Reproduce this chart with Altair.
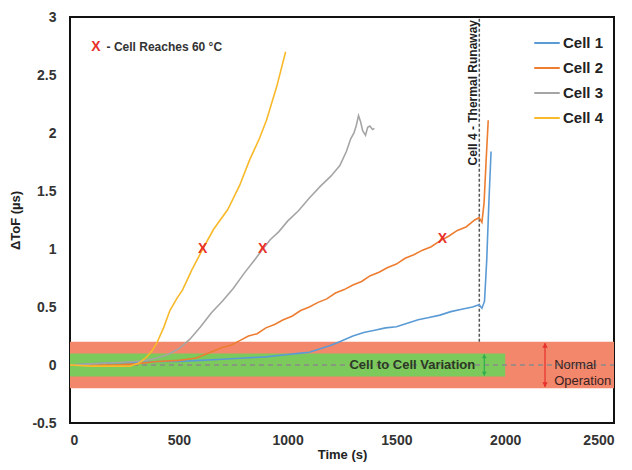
import altair as alt
import pandas as pd

# ---------------- data ----------------
cell_names = ["Cell 1", "Cell 2", "Cell 3", "Cell 4"]
cell_colors = ["#5B9BD5", "#ED7D31", "#A5A5A5", "#F8B92A"]

cell1_t = [0, 100, 200, 300, 400, 500, 600, 700, 800, 900, 1000, 1050, 1100, 1150, 1200,
           1250, 1300, 1350, 1400, 1450, 1500, 1550, 1600, 1650, 1700, 1750, 1800, 1850,
           1880, 1893, 1905, 1915, 1925, 1935]
cell1_v = [0.0, 0.01, 0.02, 0.02, 0.03, 0.03, 0.04, 0.05, 0.06, 0.07, 0.09, 0.10, 0.11, 0.14, 0.17,
           0.21, 0.25, 0.28, 0.30, 0.32, 0.33, 0.36, 0.39, 0.41, 0.43, 0.46, 0.48, 0.50,
           0.52, 0.49, 0.55, 0.90, 1.40, 1.84]

cell2_t = [0, 100, 200, 300, 400, 500, 540, 580, 620, 660, 700, 740, 780, 820, 860, 900, 940,
           980, 1020, 1060, 1100, 1140, 1180, 1220, 1260, 1300, 1340, 1380, 1420, 1460, 1500,
           1540, 1580, 1620, 1660, 1700, 1740, 1780, 1820, 1860, 1880, 1893, 1903, 1912, 1922]
cell2_v = [0.0, 0.0, 0.0, 0.01, 0.03, 0.04, 0.05, 0.06, 0.09, 0.12, 0.15, 0.17, 0.21, 0.25, 0.27,
           0.32, 0.35, 0.39, 0.42, 0.47, 0.50, 0.54, 0.57, 0.62, 0.65, 0.69, 0.72, 0.77, 0.80,
           0.84, 0.87, 0.92, 0.95, 0.99, 1.02, 1.07, 1.11, 1.16, 1.19, 1.25, 1.27, 1.23, 1.40,
           1.75, 2.11]

cell3_t = [0, 100, 200, 300, 350, 400, 450, 500, 550, 600, 650, 700, 750, 800, 850, 886, 920,
           960, 1000, 1050, 1100, 1150, 1200, 1240, 1270, 1290, 1305, 1315, 1326, 1335, 1345,
           1358, 1368, 1378, 1390, 1399]
cell3_v = [0.0, 0.01, 0.02, 0.03, 0.04, 0.06, 0.09, 0.14, 0.22, 0.33, 0.45, 0.55, 0.66, 0.79,
           0.91, 1.0, 1.08, 1.15, 1.24, 1.33, 1.44, 1.54, 1.63, 1.72, 1.84, 1.95, 2.0, 2.06,
           2.15, 2.10, 2.02, 1.98, 2.05, 2.06, 2.03, 2.04]

cell4_t = [0, 100, 200, 275, 320, 353, 380, 399, 430, 459, 490, 518, 560, 610, 660, 725, 780,
           826, 870, 903, 950, 991]
cell4_v = [0.0, -0.01, -0.01, -0.01, 0.02, 0.07, 0.13, 0.19, 0.32, 0.47, 0.57, 0.65, 0.82, 1.0,
           1.17, 1.34, 1.55, 1.77, 1.95, 2.11, 2.40, 2.70]

# points where each cell reaches 60 °C
marker_t = [610, 886, 1711]
marker_v = [1.0, 1.0, 1.09]

# bands
normal_band = [-0.2, 0.2]
variation_band = [-0.1, 0.1]
variation_end = 2000
runaway_t = 1881

x_ticks = [0, 500, 1000, 1500, 2000, 2500]
y_ticks = [-0.5, 0, 0.5, 1, 1.5, 2, 2.5, 3]

FONT = "Liberation Sans"
X_TITLE = "Time (s)"
Y_TITLE = "\u0394ToF (\u00b5s)"

rows = []
for name, ts, vs in zip(cell_names, [cell1_t, cell2_t, cell3_t, cell4_t],
                        [cell1_v, cell2_v, cell3_v, cell4_v]):
    for i, (t, v) in enumerate(zip(ts, vs)):
        rows.append({"cell": name, "t": t, "v": v, "i": i})
lines_df = pd.DataFrame(rows)

xs = alt.Scale(domain=[0, 2500], nice=False)
ys = alt.Scale(domain=[-0.5, 3], nice=False)
x_axis = alt.Axis(values=x_ticks, format="d", labelPadding=10, titlePadding=1)
y_axis = alt.Axis(values=y_ticks, labelPadding=14, titlePadding=9,
                  labelExpr="toString(datum.value)")


def X(field):
    return alt.X(field, scale=xs, axis=x_axis, title=X_TITLE)


def Y(field):
    return alt.Y(field, scale=ys, axis=y_axis, title=Y_TITLE)


red_band = alt.Chart(pd.DataFrame({"x0": [0], "x1": [2500], "y0": [normal_band[0]], "y1": [normal_band[1]]})).mark_rect(
    color="#F2876B").encode(x=X("x0:Q"), x2="x1:Q", y=Y("y0:Q"), y2="y1:Q")

green_band = alt.Chart(pd.DataFrame({"x0": [0], "x1": [variation_end], "y0": [variation_band[0]], "y1": [variation_band[1]]})).mark_rect(
    color="#7CC95C").encode(x=X("x0:Q"), x2="x1:Q", y=Y("y0:Q"), y2="y1:Q")

zero_line = alt.Chart(pd.DataFrame({"x0": [0], "x1": [2500], "y0": [0]})).mark_rule(
    color="#8A8A8A", strokeDash=[5, 4], strokeWidth=1.3).encode(x=X("x0:Q"), x2="x1:Q", y=Y("y0:Q"))

runaway_line = alt.Chart(pd.DataFrame({"x0": [runaway_t], "y0": [normal_band[1]], "y1": [3]})).mark_rule(
    color="#555555", strokeDash=[3, 2], strokeWidth=1.5).encode(x=X("x0:Q"), y=Y("y0:Q"), y2="y1:Q")

lines = alt.Chart(lines_df).mark_line(strokeWidth=1.6).encode(
    x=X("t:Q"), y=Y("v:Q"),
    color=alt.Color("cell:N", scale=alt.Scale(domain=cell_names, range=cell_colors),
                    legend=alt.Legend(title=None, orient="none", legendX=463, legendY=12,
                                      symbolType="stroke", symbolStrokeWidth=2, symbolSize=650,
                                      labelFont=FONT, labelFontSize=15, labelFontWeight="bold",
                                      labelColor="#222222", rowPadding=3, labelOffset=2)),
    order="i:Q")

markers = alt.Chart(pd.DataFrame({"t": marker_t, "v": marker_v})).mark_text(
    text="X", color="#E8302A", font=FONT, fontSize=14, fontWeight="bold", baseline="middle").encode(
    x=X("t:Q"), y=Y("v:Q"))

note_x = alt.Chart(pd.DataFrame({"t": [119], "v": [2.74]})).mark_text(
    text="X", color="#E8302A", font=FONT, fontSize=14, fontWeight="bold", baseline="middle").encode(
    x=X("t:Q"), y=Y("v:Q"))

note_text = alt.Chart(pd.DataFrame({"t": [168], "v": [2.74]})).mark_text(
    text="- Cell Reaches 60 \u00b0C", color="#333333", font=FONT, fontSize=12, fontWeight="bold",
    align="left", baseline="middle").encode(x=X("t:Q"), y=Y("v:Q"))

runaway_text = alt.Chart(pd.DataFrame({"t": [1853], "v": [3]})).mark_text(
    text="Cell 4 - Thermal Runaway", color="#222222", font=FONT, fontSize=12, fontWeight="bold",
    angle=270, align="right", baseline="middle", dx=-3).encode(x=X("t:Q"), y=Y("v:Q"))

variation_text = alt.Chart(pd.DataFrame({"t": [1573], "v": [0]})).mark_text(
    text="Cell to Cell Variation", color="#2A3A22", font=FONT, fontSize=13, fontWeight="bold",
    align="center", baseline="middle").encode(x=X("t:Q"), y=Y("v:Q"))

normal_text = alt.Chart(pd.DataFrame({"t": [2225], "v": [0]})).mark_text(
    text=["Normal", "Operation"], color="#3A2222", font=FONT, fontSize=13,
    align="left", baseline="middle", lineHeight=16).encode(x=X("t:Q"), y=Y("v:Q"))

green_arrow = alt.Chart(pd.DataFrame({"t": [1904], "y0": [-0.09], "y1": [0.09]})).mark_rule(
    color="#2FAE4E", strokeWidth=1.2).encode(x=X("t:Q"), y=Y("y0:Q"), y2="y1:Q")
green_heads = alt.Chart(pd.DataFrame({"t": [1904, 1904], "v": [0.075, -0.075],
                                      "s": ["triangle-up", "triangle-down"]})).mark_point(
    filled=True, color="#2FAE4E", size=22, opacity=1).encode(
    x=X("t:Q"), y=Y("v:Q"), shape=alt.Shape("s:N", scale=None, legend=None))

red_arrow = alt.Chart(pd.DataFrame({"t": [2183], "y0": [-0.19], "y1": [0.19]})).mark_rule(
    color="#E8302A", strokeWidth=1.2).encode(x=X("t:Q"), y=Y("y0:Q"), y2="y1:Q")
red_heads = alt.Chart(pd.DataFrame({"t": [2183, 2183], "v": [0.17, -0.17],
                                    "s": ["triangle-up", "triangle-down"]})).mark_point(
    filled=True, color="#E8302A", size=30, opacity=1).encode(
    x=X("t:Q"), y=Y("v:Q"), shape=alt.Shape("s:N", scale=None, legend=None))

chart = alt.layer(
    red_band, green_band, zero_line, runaway_line, lines, markers, note_x, note_text,
    runaway_text, variation_text, normal_text, green_arrow, green_heads, red_arrow, red_heads
).properties(
    width=544, height=406,
    autosize=alt.AutoSizeParams(type="none"),
    padding={"left": 62, "top": 9, "right": 10, "bottom": 39},
    background="white",
).configure_view(
    stroke="#111111", strokeWidth=2
).configure_axis(
    domain=False, ticks=False, tickSize=0, grid=False,
    labelFont=FONT, labelFontSize=14, labelFontWeight="bold", labelColor="#333333",
    titleFont=FONT, titleFontSize=13, titleFontWeight="bold", titleColor="#222222",
)

chart.save("out.html", embed_options={"renderer": "svg", "actions": False})
